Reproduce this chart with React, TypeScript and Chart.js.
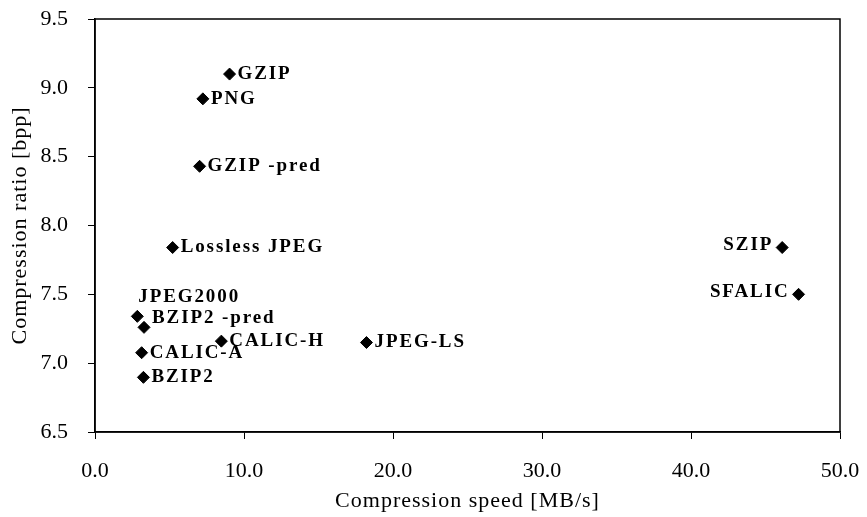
import React, { useEffect, useRef } from "react";
import { Chart, registerables } from "chart.js";

Chart.register(...registerables);

const names = [
  "GZIP",
  "PNG",
  "GZIP -pred",
  "Lossless JPEG",
  "JPEG2000",
  "BZIP2 -pred",
  "CALIC-H",
  "CALIC-A",
  "BZIP2",
  "JPEG-LS",
  "SZIP",
  "SFALIC",
];
const speedMBs = [9.03, 7.24, 7.02, 5.21, 2.84, 3.29, 8.48, 3.13, 3.25, 18.22, 46.12, 47.22];
const ratioBpp = [9.1, 8.92, 8.43, 7.84, 7.34, 7.26, 7.16, 7.076, 6.897, 7.15, 7.84, 7.5];
const xTicks = [0, 10, 20, 30, 40, 50];
const yTicks = [6.5, 7.0, 7.5, 8.0, 8.5, 9.0, 9.5];
const xTitle = "Compression speed [MB/s]";
const yTitle = "Compression ratio [bpp]";

// label placement (style, not data)
const labelPlacement: Record<string, { side: "right" | "left" | "above"; dy?: number }> = {
  "JPEG2000": { side: "above" },
  "BZIP2 -pred": { side: "right", dy: -9 },
  SZIP: { side: "left" },
  SFALIC: { side: "left" },
};

const SERIF = "'Liberation Serif', 'Times New Roman', serif";

const resetSpacingPlugin = {
  id: "resetSpacing",
  beforeDraw(chart: any) {
    (chart.ctx as any).letterSpacing = "0px";
  },
};

const labelPlugin = {
  id: "pointLabels",
  afterDatasetsDraw(chart: any) {
    const { ctx } = chart;
    const meta = chart.getDatasetMeta(0);
    ctx.save();
    ctx.font = `bold 19px ${SERIF}`;
    (ctx as any).letterSpacing = "1.9px";
    ctx.fillStyle = "#000";
    meta.data.forEach((el: any, i: number) => {
      const name = names[i];
      const pl = labelPlacement[name] || { side: "right" };
      const x = el.x;
      const y = el.y + (pl.dy || 0);
      ctx.textBaseline = "middle";
      if (pl.side === "right") {
        ctx.textAlign = "left";
        ctx.fillText(name, x + 8, y);
      } else if (pl.side === "left") {
        ctx.textAlign = "right";
        ctx.fillText(name, x - 9, y - 2);
      } else {
        ctx.textAlign = "left";
        ctx.fillText(name, x + 1, y - 19);
      }
    });
    (ctx as any).letterSpacing = "0px";
    ctx.restore();
  },
};

const framePlugin = {
  id: "frame",
  afterDraw(chart: any) {
    const { ctx, chartArea: a } = chart;
    ctx.save();
    ctx.strokeStyle = "#000";
    ctx.lineWidth = 1.5;
    ctx.strokeRect(a.left, a.top, a.right - a.left, a.bottom - a.top);
    // axis titles (drawn with slight letter spacing like the original)
    ctx.fillStyle = "#000";
    ctx.font = `22px ${SERIF}`;
    (ctx as any).letterSpacing = "1px";
    ctx.textAlign = "center";
    ctx.textBaseline = "middle";
    ctx.fillText(xTitle, (a.left + a.right) / 2, 501);
    ctx.translate(20, (a.top + a.bottom) / 2);
    ctx.rotate(-Math.PI / 2);
    ctx.fillText(yTitle, 0, 0);
    (ctx as any).letterSpacing = "0px";
    ctx.restore();
  },
};

export default function App() {
  const ref = useRef<HTMLCanvasElement>(null);
  useEffect(() => {
    document.body.style.margin = "0";
    const chart = new Chart(ref.current!, {
      type: "scatter",
      data: {
        datasets: [
          {
            data: speedMBs.map((x, i) => ({ x, y: ratioBpp[i] })),
            pointStyle: "rectRot",
            pointRadius: 6,
            pointBackgroundColor: "#000",
            pointBorderColor: "#000",
            pointBorderWidth: 1,
          },
        ],
      },
      options: {
        animation: false,
        responsive: false,
        devicePixelRatio: 1,
        layout: { padding: { top: 19, right: 27, left: 0, bottom: 0 } },
        plugins: { legend: { display: false }, tooltip: { enabled: false } },
        scales: {
          x: {
            type: "linear",
            min: 0,
            max: 50,
            afterFit: (s: any) => {
              s.height = 85;
              s.paddingLeft = 0;
              s.paddingRight = 0;
            },
            afterBuildTicks: (s: any) => {
              s.ticks = xTicks.map((v) => ({ value: v }));
            },
            ticks: {
              color: "#000",
              font: { family: SERIF, size: 22 },
              padding: 19,
              callback: (v: any) => Number(v).toFixed(1),
              maxRotation: 0,
            },
            grid: { drawOnChartArea: false, tickLength: 7, color: "#000", lineWidth: 1 },
            border: { color: "#000", width: 1.5 },
            title: { display: false },
          },
          y: {
            type: "linear",
            min: 6.5,
            max: 9.5,
            afterFit: (s: any) => {
              s.width = 95;
              s.paddingTop = 0;
              s.paddingBottom = 0;
            },
            afterBuildTicks: (s: any) => {
              s.ticks = yTicks.map((v) => ({ value: v }));
            },
            ticks: {
              color: "#000",
              font: { family: SERIF, size: 22 },
              padding: 20,
              callback: (v: any) => Number(v).toFixed(1),
            },
            grid: { drawOnChartArea: false, tickLength: 7, color: "#000", lineWidth: 1 },
            border: { color: "#000", width: 1.5 },
            title: { display: false },
          },
        },
      },
      plugins: [resetSpacingPlugin, labelPlugin, framePlugin],
    });
    return () => chart.destroy();
  }, []);
  return (
    <div style={{ width: 867, height: 517 }}>
      <canvas ref={ref} width={867} height={517} style={{ display: "block" }} />
    </div>
  );
}
